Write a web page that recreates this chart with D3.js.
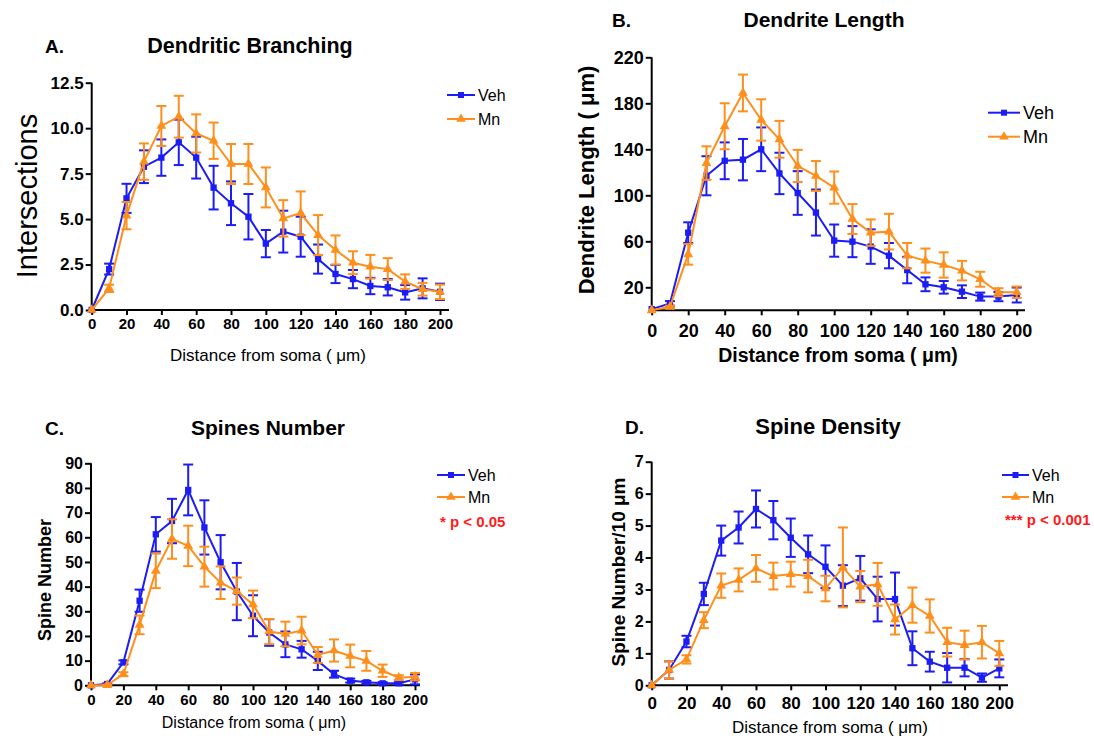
<!DOCTYPE html>
<html>
<head>
<meta charset="utf-8">
<script src="https://cdn.jsdelivr.net/npm/d3@7"></script>
<style>
  body { margin: 0; background: #fff; }
  svg { display: block; }
  text { font-family: Arial, "Liberation Sans", sans-serif; fill: #000; }
</style>
</head>
<body>
<svg id="fig" width="1094" height="740"></svg>
<script>
// --- data ---
const dist = [0, 10, 20, 30, 40, 50, 60, 70, 80, 90, 100, 110, 120, 130, 140, 150, 160, 170, 180, 190, 200];
const xTicks = [0, 20, 40, 60, 80, 100, 120, 140, 160, 180, 200];
const seriesNames = ["Veh", "Mn"];

// A. dendritic branching
const branchVeh    = [0, 2.25, 6.14, 7.88, 8.38, 9.22, 8.38, 6.73, 5.87, 5.13, 3.65, 4.31, 4.03, 2.80, 1.98, 1.70, 1.32, 1.25, 0.97, 1.19, 1.0];
const branchVehErr = [0, 0.3, 0.8, 0.9, 1.0, 1.25, 1.15, 1.2, 1.2, 1.25, 0.75, 1.15, 1.1, 0.8, 0.5, 0.5, 0.45, 0.45, 0.4, 0.55, 0.45];
const branchMn     = [0, 1.19, 5.19, 8.16, 10.12, 10.63, 9.71, 9.31, 8.03, 8.03, 6.74, 5.04, 5.32, 4.12, 3.30, 2.60, 2.38, 2.25, 1.56, 1.14, 1.0];
const branchMnErr  = [0, 0.2, 0.75, 1.0, 1.1, 1.15, 1.05, 1.0, 1.1, 1.1, 1.1, 1.0, 1.2, 1.1, 0.8, 0.63, 0.65, 0.6, 0.4, 0.35, 0.4];
const branchTicks  = [0, 2.5, 5, 7.5, 10, 12.5];

// B. dendrite length
const lengthVeh    = [1, 6, 67.5, 117, 130, 131, 140, 119, 102, 85, 60.6, 59.7, 55.4, 47.5, 35, 22.6, 20, 16.2, 11.9, 11.9, 13.3];
const lengthVehErr = [0, 2, 9, 17, 16, 18, 19, 18, 19, 20, 14, 13.5, 15, 11, 11.5, 6, 5.5, 5.5, 3.5, 4, 6.5];
const lengthMn     = [0, 3, 48.7, 128, 160, 189, 165.5, 148.7, 125.5, 116.8, 106.7, 79.4, 67.5, 68.4, 47.5, 43.2, 39.4, 34.5, 27, 15.7, 15.7];
const lengthMnErr  = [0, 1, 9, 14.6, 20, 16, 18, 16, 14, 13, 14, 13, 11.5, 15.5, 11, 10.5, 11, 8.5, 6.5, 3.5, 5];
const lengthTicks  = [20, 60, 100, 140, 180, 220];

// C. spines number
const spineVeh    = [0, 0.5, 9.3, 34.3, 61.2, 66.6, 79.2, 64, 49.9, 38, 28.2, 21.4, 16.6, 14.6, 9.9, 4.5, 1.9, 1.2, 0.8, 0.8, 2.4];
const spineVehErr = [0, 0.3, 0.8, 4.5, 7, 9, 10.3, 11, 11, 11.6, 8.3, 5.4, 5.2, 3.4, 3.7, 1.4, 0.8, 0.6, 0.5, 0.5, 2];
const spineMn     = [0, 0.1, 4.5, 24.5, 46.4, 59.3, 56.5, 48.1, 41.6, 38.2, 32.8, 21.8, 20.8, 22.2, 12.3, 14.1, 11.9, 9.9, 5.9, 3.1, 3.5];
const spineMnErr  = [0, 0.2, 0.8, 3.8, 7, 8, 8.2, 8.1, 6.6, 5.5, 5.6, 5.1, 5, 5.6, 3.2, 4.5, 4.6, 4, 2.5, 1, 1.5];
const spineTicks  = [0, 10, 20, 30, 40, 50, 60, 70, 80, 90];

// D. spine density
const densVeh    = [0, 0.48, 1.37, 2.86, 4.53, 4.94, 5.52, 5.17, 4.62, 4.10, 3.71, 3.12, 3.35, 2.70, 2.70, 1.16, 0.74, 0.55, 0.55, 0.24, 0.53];
const densVehErr = [0, 0.27, 0.18, 0.35, 0.47, 0.5, 0.58, 0.6, 0.6, 0.59, 0.67, 0.64, 0.7, 0.7, 0.83, 0.53, 0.31, 0.46, 0.27, 0.13, 0.28];
const densMn     = [0, 0.48, 0.81, 2.04, 3.12, 3.30, 3.66, 3.42, 3.48, 3.42, 3.03, 3.69, 3.09, 3.16, 2.06, 2.51, 2.17, 1.35, 1.26, 1.35, 1.0];
const densMnErr  = [0, 0.27, 0.13, 0.25, 0.38, 0.36, 0.42, 0.42, 0.39, 0.51, 0.4, 1.25, 0.49, 0.67, 0.47, 0.55, 0.52, 0.45, 0.45, 0.51, 0.39];
const densTicks  = [0, 1, 2, 3, 4, 5, 6, 7];

const blue = "#1c1cf5", orange = "#ff8f1c", red = "#ff1a1a";
const svg = d3.select("#fig");

// one panel
function drawPanel(p) {
  const g = svg.append("g");
  const x = d3.scaleLinear().domain([0, 200]).range([p.x0, p.x200]);
  const y = d3.scaleLinear().domain([0, p.yMax]).range([p.y0, p.yTop]);

  // y axis
  const yAx = g.append("g").attr("transform", "translate(" + p.x0 + ",0)")
    .call(d3.axisLeft(y).tickValues(p.yTicks).tickSize(6).tickPadding(2).tickSizeOuter(0)
      .tickFormat(p.yFmt ? d3.format(p.yFmt) : d3.format("d")));
  yAx.select(".domain").attr("d", "M0," + p.y0 + "V" + p.yTop);
  yAx.selectAll("path, line").attr("stroke", "#000").attr("stroke-width", 2);
  yAx.selectAll("text").style("font-size", p.yTickSize + "px").style("font-weight", "bold")
    .attr("fill", "#000").attr("font-family", null);

  // x axis
  const xAx = g.append("g").attr("transform", "translate(0," + p.y0 + ")")
    .call(d3.axisBottom(x).tickValues(xTicks).tickSize(5).tickPadding(p.xPad).tickSizeOuter(0));
  xAx.select(".domain").attr("d", "M" + p.x0 + ",0H" + p.xEnd);
  xAx.selectAll("path, line").attr("stroke", "#000").attr("stroke-width", 2);
  xAx.selectAll("text").style("font-size", p.xTickSize + "px").style("font-weight", "bold")
    .attr("fill", "#000").attr("font-family", null);

  // series
  const sets = [
    { v: p.veh, e: p.vehErr, c: blue, m: "square" },
    { v: p.mn, e: p.mnErr, c: orange, m: "triangle" }
  ];
  sets.forEach(function(s) {
    const pts = dist.map(function(d, i) { return { d: d, v: s.v[i], e: s.e[i] }; });
    const sg = g.append("g");
    // error bars
    const eb = sg.selectAll(".eb").data(pts.filter(function(d) { return d.e > 0; })).enter().append("g");
    eb.append("line")
      .attr("x1", function(d) { return x(d.d); }).attr("x2", function(d) { return x(d.d); })
      .attr("y1", function(d) { return y(d.v - d.e); }).attr("y2", function(d) { return y(d.v + d.e); });
    eb.append("line")
      .attr("x1", function(d) { return x(d.d) - 5; }).attr("x2", function(d) { return x(d.d) + 5; })
      .attr("y1", function(d) { return y(d.v + d.e); }).attr("y2", function(d) { return y(d.v + d.e); });
    eb.append("line")
      .attr("x1", function(d) { return x(d.d) - 5; }).attr("x2", function(d) { return x(d.d) + 5; })
      .attr("y1", function(d) { return y(d.v - d.e); }).attr("y2", function(d) { return y(d.v - d.e); });
    eb.selectAll("line").attr("stroke", s.c).attr("stroke-width", 2);
    // line
    sg.append("path").datum(pts)
      .attr("d", d3.line().x(function(d) { return x(d.d); }).y(function(d) { return y(d.v); }))
      .attr("fill", "none").attr("stroke", s.c).attr("stroke-width", 2);
    // markers
    const sym = d3.symbol().type(s.m == "square" ? d3.symbolSquare : d3.symbolTriangle)
      .size(s.m == "square" ? 40 : 42);
    sg.selectAll(".mk").data(pts).enter().append("path")
      .attr("d", sym)
      .attr("transform", function(d) { return "translate(" + x(d.d) + "," + y(d.v) + ")"; })
      .attr("fill", s.c);
  });

  // texts
  g.append("text").attr("x", p.letterX).attr("y", p.titleY).text(p.letter)
    .style("font-size", "19px").style("font-weight", "bold");
  g.append("text").attr("x", p.titleX).attr("y", p.titleY).attr("text-anchor", "middle").text(p.title)
    .style("font-size", p.titleSize + "px").style("font-weight", "bold");
  g.append("text").attr("x", p.xLabX).attr("y", p.xLabY).attr("text-anchor", "middle")
    .text("Distance from soma (\u00a0\u03bcm)")
    .style("font-size", p.xLabSize + "px").style("font-weight", p.xLabBold ? "bold" : "normal");
  g.append("text").attr("transform", "translate(" + p.yLabX + "," + p.yLabY + ") rotate(-90)")
    .attr("text-anchor", "middle").attr("dy", "0.35em").text(p.yLab)
    .style("font-size", p.yLabSize + "px").style("font-weight", p.yLabBold ? "bold" : "normal");

  // legend
  const lg = g.append("g");
  [blue, orange].forEach(function(c, i) {
    const ly = p.legY + i * p.legGap;
    lg.append("line").attr("x1", p.legX).attr("x2", p.legX + p.legW).attr("y1", ly).attr("y2", ly)
      .attr("stroke", c).attr("stroke-width", 2);
    lg.append("path").attr("d", d3.symbol().type(i == 0 ? d3.symbolSquare : d3.symbolTriangle).size(i == 0 ? 36 : 40))
      .attr("transform", "translate(" + (p.legX + p.legW / 2) + "," + ly + ")").attr("fill", c);
    lg.append("text").attr("x", p.legX + p.legW + 3).attr("y", ly).attr("dy", "0.35em")
      .text(seriesNames[i]).style("font-size", p.legSize + "px");
  });
  if (p.sig) {
    lg.append("text").attr("x", p.legX + 3).attr("y", p.sigY).text(p.sig)
      .style("font-size", "15px").style("font-weight", "bold").attr("fill", red).style("fill", red);
  }
}

drawPanel({
  x0: 91.7, x200: 440, xEnd: 449, y0: 310, yTop: 82.7, yMax: 12.5, yTicks: branchTicks, yFmt: ".1f",
  veh: branchVeh, vehErr: branchVehErr, mn: branchMn, mnErr: branchMnErr,
  yTickSize: 17, xTickSize: 15, xPad: 3,
  letter: "A.", letterX: 45, title: "Dendritic Branching", titleX: 250, titleY: 53, titleSize: 21.5,
  xLabX: 268, xLabY: 361, xLabSize: 17, xLabBold: false,
  yLab: "Intersections", yLabX: 27, yLabY: 196, yLabSize: 29, yLabBold: false,
  legX: 447, legW: 28, legY: 95, legGap: 24, legSize: 16
});

drawPanel({
  x0: 651.7, x200: 1016.7, xEnd: 1025, y0: 310.3, yTop: 57.3, yMax: 220, yTicks: lengthTicks,
  veh: lengthVeh, vehErr: lengthVehErr, mn: lengthMn, mnErr: lengthMnErr,
  yTickSize: 18, xTickSize: 18, xPad: 9,
  letter: "B.", letterX: 612, title: "Dendrite Length", titleX: 824, titleY: 27, titleSize: 21,
  xLabX: 838, xLabY: 362, xLabSize: 19.5, xLabBold: true,
  yLab: "Dendrite Length (\u00a0\u03bcm)", yLabX: 586, yLabY: 180, yLabSize: 22, yLabBold: true,
  legX: 988, legW: 32, legY: 112.7, legGap: 24, legSize: 18
});

drawPanel({
  x0: 91, x200: 415, xEnd: 420, y0: 685.3, yTop: 463.3, yMax: 90, yTicks: spineTicks,
  veh: spineVeh, vehErr: spineVehErr, mn: spineMn, mnErr: spineMnErr,
  yTickSize: 16, xTickSize: 15, xPad: 4,
  letter: "C.", letterX: 45, title: "Spines Number", titleX: 268, titleY: 435, titleSize: 21,
  xLabX: 254, xLabY: 728, xLabSize: 16, xLabBold: false,
  yLab: "Spine Number", yLabX: 45, yLabY: 580, yLabSize: 18, yLabBold: true,
  legX: 437, legW: 28, legY: 475, legGap: 22, legSize: 16
  , sig: "* p < 0.05", sigY: 527
});

drawPanel({
  x0: 651.7, x200: 999.3, xEnd: 1008, y0: 685.3, yTop: 461.7, yMax: 7, yTicks: densTicks,
  veh: densVeh, vehErr: densVehErr, mn: densMn, mnErr: densMnErr,
  yTickSize: 16, xTickSize: 17, xPad: 7,
  letter: "D.", letterX: 625, title: "Spine Density", titleX: 828, titleY: 434, titleSize: 22,
  xLabX: 830, xLabY: 733, xLabSize: 17, xLabBold: false,
  yLab: "Spine Number/10 \u03bcm", yLabX: 618, yLabY: 572, yLabSize: 19, yLabBold: true,
  legX: 1002, legW: 27, legY: 475, legGap: 22, legSize: 16,
  sig: "*** p < 0.001", sigY: 525
});
</script>
</body>
</html>
